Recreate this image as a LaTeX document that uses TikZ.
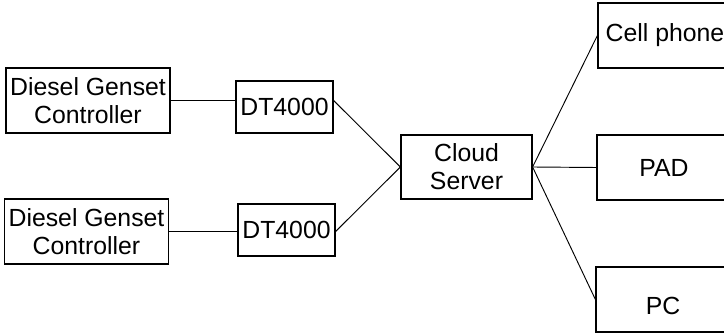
\documentclass[tikz,border=0pt]{standalone}
\usepackage{fontspec}
\setmainfont{Liberation Sans}
\usepackage{tikz}

\begin{document}
\begin{tikzpicture}[x=0.75pt,y=-0.75pt,line width=0.7pt,
    base node/.style={rectangle,draw,line width=0.9pt,align=center,inner sep=0pt,font=\fontsize{18.6}{21}\selectfont},
    genset node/.style={base node,minimum width=123pt,minimum height=48.75pt},
    dt node/.style={base node,minimum width=72.75pt,minimum height=39pt},
    server node/.style={base node,minimum width=98.25pt,minimum height=48pt},
    device node/.style={base node,minimum width=100.5pt,minimum height=48.75pt}]

  \clip (0,0) rectangle (724,334);

  \node[genset node] (gensetA) at (88,100.5) {Diesel Genset\\Controller};
  \node[genset node] (gensetB) at (86.5,231.5) {Diesel Genset\\Controller};
  \node[dt node] (dtA) at (284.5,107) {DT4000};
  \node[dt node] (dtB) at (286.5,230) {DT4000};
  \node[server node] (cloud) at (466.5,167) {Cloud\\Server};
  \node[device node] (phone) at (665,35.5) {Cell phone};
  \node[device node] (pad) at (664,167.5) {PAD};
  \node[device node,text height=23pt] (pc) at (663,299.5) {PC};

  \path (gensetA.east) edge (gensetA.east -| dtA.west)
        (gensetB.east) edge (gensetB.east -| dtB.west)
        (dtA.east |- gensetA.east) edge (cloud.west)
        (dtB.east |- gensetB.east) edge (cloud.west)
        (cloud.east) edge (phone.west)
        (cloud.east) edge (pad.west)
        (cloud.east) edge (pc.west)
        ;

\end{tikzpicture}
\end{document}
